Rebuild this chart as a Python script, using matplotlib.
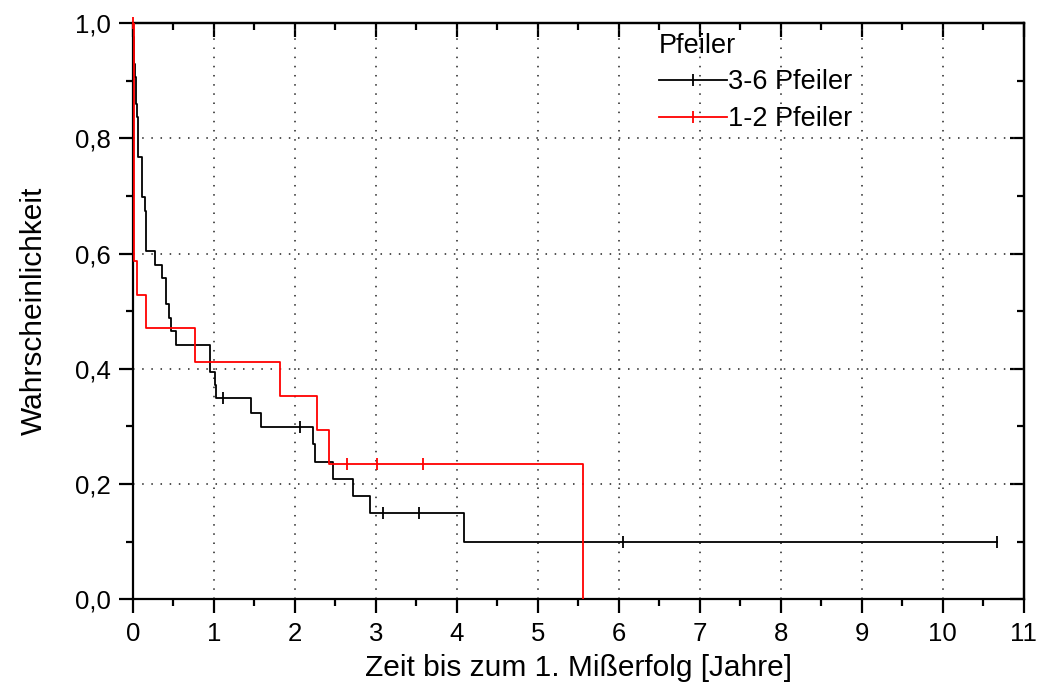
import numpy as np
import matplotlib.pyplot as plt
from matplotlib.lines import Line2D
from matplotlib.ticker import MultipleLocator, FuncFormatter

plt.rcParams['font.family'] = ['Liberation Sans', 'DejaVu Sans']

# Kaplan-Meier steps, 3-6 Pfeiler (n = 43)
t_36 = [0.0, 0.005, 0.01, 0.02, 0.03, 0.035, 0.045, 0.05, 0.06, 0.065, 0.07,
        0.11, 0.115, 0.12, 0.155, 0.16, 0.165, 0.17, 0.275, 0.36, 0.41, 0.415,
        0.45, 0.47, 0.535, 0.955, 0.96, 1.02, 1.025, 1.46, 1.59, 2.22, 2.25,
        2.47, 2.72, 2.93, 4.09, 10.67]
s_36 = [1.0, 0.977, 0.953, 0.930, 0.907, 0.884, 0.860, 0.837, 0.814, 0.791, 0.767,
        0.744, 0.721, 0.698, 0.674, 0.651, 0.628, 0.605, 0.581, 0.558, 0.535, 0.512,
        0.488, 0.465, 0.442, 0.419, 0.395, 0.372, 0.349, 0.324, 0.299, 0.269, 0.239,
        0.209, 0.179, 0.150, 0.100, 0.100]
c_36 = [1.11, 2.07, 3.09, 3.53, 6.05, 10.67]

# Kaplan-Meier steps, 1-2 Pfeiler (n = 17)
t_12 = [0.0, 0.02, 0.05, 0.17, 0.77, 1.82, 2.27, 2.42, 5.56]
s_12 = [1.0, 0.588, 0.529, 0.471, 0.412, 0.353, 0.294, 0.235, 0.0]
c_12 = [0.0, 2.65, 3.01, 3.58]

x_ticks = list(range(0, 12))
y_ticks = [0.0, 0.2, 0.4, 0.6, 0.8, 1.0]


def level_at(times, levels, t):
    i = np.searchsorted(times, t, side='right') - 1
    return levels[i]


fig = plt.figure(figsize=(10.4, 6.89), dpi=100)
ax = fig.add_axes([0.1276, 0.1302, 0.8567, 0.836])

ax.step(t_36, s_36, where='post', color='black', lw=1.3, zorder=3)
ax.step(t_12, s_12, where='post', color='#ff0000', lw=1.3, zorder=3)

ax.plot(c_36, [level_at(t_36, s_36, c) for c in c_36], ls='none', marker='|',
        ms=8, mew=1.3, color='black', zorder=4, clip_on=False)
ax.plot(c_12, [level_at(t_12, s_12, c) for c in c_12], ls='none', marker='|',
        ms=8, mew=1.3, color='#ff0000', zorder=4, clip_on=False)

ax.set_xlim(0, 11)
ax.set_ylim(0, 1.0)
ax.set_xticks(x_ticks)
ax.set_yticks(y_ticks)
ax.xaxis.set_minor_locator(MultipleLocator(0.5))
ax.yaxis.set_minor_locator(MultipleLocator(0.1))
ax.yaxis.set_major_formatter(FuncFormatter(lambda v, p: f'{v:.1f}'.replace('.', ',')))

ax.grid(True, which='major', color='#222222', lw=1.1, ls=(0, (1, 5)))

for sp in ax.spines.values():
    sp.set_linewidth(1.6)

ax.tick_params(which='major', direction='out', length=10, width=1.6,
               labelsize=18.5, pad=6)
ax.tick_params(which='minor', direction='out', length=5, width=1.6)

# inward ticks on top and right
sec_x = ax.secondary_xaxis('top')
sec_x.set_xticks(x_ticks)
sec_x.xaxis.set_minor_locator(MultipleLocator(0.5))
sec_x.tick_params(which='major', direction='in', length=10, width=1.6, labeltop=False)
sec_x.tick_params(which='minor', direction='in', length=5, width=1.6)
sec_x.spines['top'].set_linewidth(1.6)
sec_y = ax.secondary_yaxis('right')
sec_y.set_yticks(y_ticks)
sec_y.yaxis.set_minor_locator(MultipleLocator(0.1))
sec_y.tick_params(which='major', direction='in', length=10, width=1.6, labelright=False)
sec_y.tick_params(which='minor', direction='in', length=5, width=1.6)
sec_y.spines['right'].set_linewidth(1.6)

ax.set_xlabel('Zeit bis zum 1. Mißerfolg [Jahre]', fontsize=21.5, labelpad=6)
ax.set_ylabel('Wahrscheinlichkeit', fontsize=21.5, labelpad=19)

handles = [
    Line2D([], [], color='black', lw=1.3, marker='|', ms=8, mew=1.3),
    Line2D([], [], color='#ff0000', lw=1.3, marker='|', ms=8, mew=1.3),
]
leg = ax.legend(handles, ['3-6 Pfeiler', '1-2 Pfeiler'], title='Pfeiler',
                loc='upper left', bbox_to_anchor=(0.5907, 0.984), frameon=False,
                fontsize=19.5, title_fontsize=19.5, handlelength=2.5,
                handletextpad=0.05, numpoints=1, labelspacing=0.4,
                alignment='left', borderaxespad=0, borderpad=0)

fig.savefig('out.png', dpi=100)
